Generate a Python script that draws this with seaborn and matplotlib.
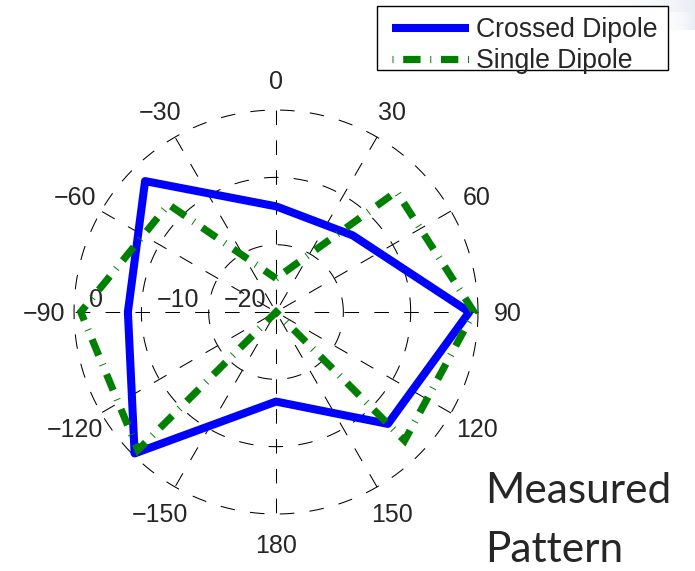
import numpy as np
import pandas as pd
import matplotlib
matplotlib.use("Agg")
import matplotlib.pyplot as plt
import matplotlib.transforms as mtransforms
from matplotlib.patches import Rectangle
import seaborn as sns

# Measured gain (dB) per azimuth (degrees, clockwise, 0 at top)
azimuth_deg = [0, 45, 90, 135, 180, -135, -90, -45]
crossed_dipole_db = [-14.3, -13.9, -1.3, -6.5, -16.7, -0.3, -8.0, -2.5]
single_dipole_db = [-25.0, -4.7, -0.6, -3.0, -30.0, -1.0, -1.0, -7.4]
series_names = ["Crossed Dipole", "Single Dipole"]

theta_tick_deg = [0, 30, 60, 90, 120, 150, 180, -150, -120, -90, -60, -30]
theta_tick_labels = ["0", "30", "60", "90", "120", "150", "180",
                     "\u2212150", "\u2212120", "\u221290", "\u221260", "\u221230"]
ring_db = [-20, -10, 0]
ring_labels = ["\u221220", "\u221210", "0"]
r_min, r_max = -30, 0

sns.set_style("white")
plt.rcParams["font.family"] = ["Liberation Sans", "DejaVu Sans"]
plt.rcParams["lines.scale_dashes"] = False

W, H = 695, 571
fig = plt.figure(figsize=(W / 100, H / 100), dpi=100)

# faint slide-header shading in the top-right corner
bg = fig.add_axes([600 / W, 1 - 30 / H, 95 / W, 30 / H], zorder=0)
gx = np.linspace(0, 1, 95)[None, :]
gy = np.linspace(1, 0, 30)[:, None]
alpha = np.clip(np.maximum(gx ** 2 * (gy > 0.6), gx ** 6), 0, 1) * 0.35
shade = np.zeros((30, 95, 4))
shade[..., 0], shade[..., 1], shade[..., 2] = 0.75, 0.80, 0.88
shade[..., 3] = alpha
bg.imshow(shade, aspect="auto", interpolation="bilinear")
bg.axis("off")

ax = fig.add_axes([0.1065, 0.0998, 0.5813, 0.7075], projection="polar")
ax.set_theta_zero_location("N")
ax.set_theta_direction(-1)


def closed(values):
    th = np.deg2rad(azimuth_deg + azimuth_deg[:1])
    return pd.DataFrame({"theta": th, "gain": values + values[:1]})


# dashed polar grid: rings and full-diameter spokes
grid_kw = dict(color="black", lw=0.75, linestyle=(0, (10.5, 11)), zorder=1, clip_on=False)
circ = np.linspace(np.pi / 2, np.pi / 2 - 2 * np.pi, 721)
for r in ring_db:
    ax.plot(circ, np.full_like(circ, r), **grid_kw)
for a in range(0, 180, 30):
    t = np.deg2rad(a)
    ax.plot([t, t + np.pi], [r_max, r_max], **grid_kw)

sns.lineplot(data=closed(crossed_dipole_db), x="theta", y="gain", sort=False,
             estimator=None, ax=ax, color="#0000ff", lw=5.8,
             solid_joinstyle="round", solid_capstyle="butt",
             clip_on=False, zorder=3)
sns.lineplot(data=closed(single_dipole_db), x="theta", y="gain", sort=False,
             estimator=None, ax=ax, color="#008000", lw=5.2,
             linestyle=(19.5, (12.5, 7.0, 0.7, 7.0)),
             dash_capstyle="butt", dash_joinstyle="miter",
             clip_on=False, zorder=4)

ax.set_xlim(0, 2 * np.pi)
ax.set_ylim(r_min, r_max)
ax.set_xticks([])
ax.set_yticks([])
ax.set_xlabel("")
ax.set_ylabel("")
ax.grid(False)
ax.spines["polar"].set_visible(False)
ax.patch.set_visible(False)

# angle labels around the rim
r_lab = r_min + (r_max - r_min) * 232 / 202
lab_tr = mtransforms.offset_copy(ax.transData, fig=fig, x=0, y=-8.7 * 0.72, units="points")
for a, lab in zip(theta_tick_deg, theta_tick_labels):
    ax.text(np.deg2rad(a), r_lab, lab, transform=lab_tr, ha="center",
            va="baseline", fontsize=18, clip_on=False)

# ring labels along the -90 spoke
ring_tr = mtransforms.offset_copy(ax.transData, fig=fig, x=15 * 0.72, y=5.5 * 0.72, units="points")
for r, lab in zip(ring_db, ring_labels):
    ax.text(np.deg2rad(-90), r, lab, transform=ring_tr, ha="left",
            va="baseline", fontsize=18, clip_on=False)

# legend box, then the legend entries on top of it
fig.patches.append(Rectangle((377 / W, 1 - 70 / H), 291 / W, 64 / H,
                             transform=fig.transFigure, fill=True,
                             facecolor="white", edgecolor="black", lw=1.0,
                             zorder=5))
lines = ax.get_lines()
leg = fig.legend(handles=[lines[-2], lines[-1]], labels=series_names,
                 loc="upper left", bbox_to_anchor=(392 / W, 1 - 17 / H),
                 bbox_transform=fig.transFigure, fontsize=19.2, frameon=False,
                 borderpad=0, handlelength=2.9, handletextpad=0.25,
                 labelspacing=0.2, borderaxespad=0)
leg.set_zorder(6)

fig.text(485 / W, 1 - 503 / H, "Measured", fontfamily=["Lato", "DejaVu Sans"],
         fontsize=30.5, ha="left", va="baseline")
fig.text(485 / W, 1 - 562 / H, "Pattern", fontfamily=["Lato", "DejaVu Sans"],
         fontsize=30.5, ha="left", va="baseline")

fig.savefig("out.png", dpi=100)
